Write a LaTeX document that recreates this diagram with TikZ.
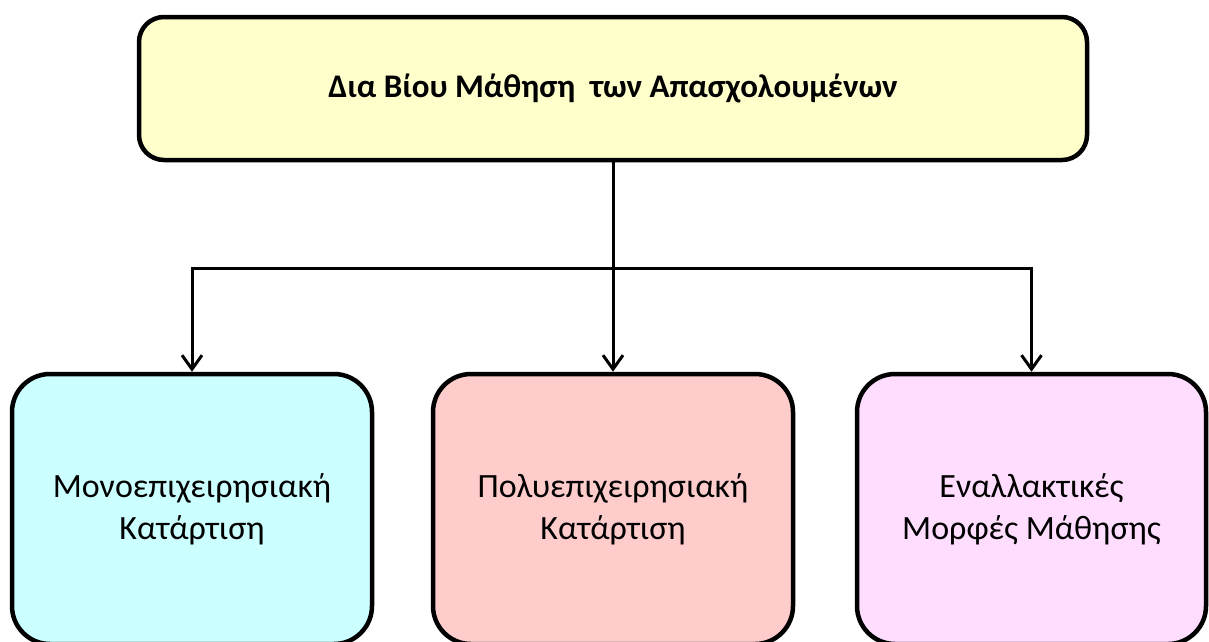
\documentclass[tikz,border=0pt]{standalone}
\usepackage{fontspec}
\setmainfont{Carlito}
\usetikzlibrary{arrows.meta,positioning}
\definecolor{titlefill}{HTML}{FFFFCC}
\definecolor{monofill}{HTML}{CCFFFF}
\definecolor{polyfill}{HTML}{FFCCCC}
\definecolor{altfill}{HTML}{FFDDFF}
\tikzstyle{titlebox} = [draw=black, fill=titlefill, line width=4.5pt, rectangle, rounded corners=25pt, minimum width=948pt, minimum height=143pt, font=\bfseries\fontsize{33}{40}\selectfont]
\tikzstyle{formbox} = [draw=black, line width=4.5pt, rectangle, rounded corners=38pt, minimum width=360pt, minimum height=270pt, align=center, font=\fontsize{34}{42}\selectfont]
\tikzstyle{branch} = [line width=3pt, -{Straight Barb[length=14pt,width=20pt,line width=3pt]}]

\begin{document}
\begin{tikzpicture}[x=1pt,y=-1pt]
\useasboundingbox (0,0) rectangle (1209,641);
\node [titlebox] (lifelong) at (613,88.5) {Δια Βίου Μάθηση\ \ των Απασχολουμένων};
\node [formbox, fill=monofill] (mono) at (192,509) {Μονοεπιχειρησιακή\\Κατάρτιση};
\node [formbox, fill=polyfill] (poly) at (613,509) {Πολυεπιχειρησιακή\\Κατάρτιση};
\node [formbox, fill=altfill, minimum width=349pt] (alt) at (1031.5,509) {Εναλλακτικές\\Μορφές Μάθησης};
\coordinate (split) at (613,268);
\draw [line width=3pt] (lifelong.south) -- (split);
\draw [branch] (split) -| (mono.north);
\draw [branch] (split) -- (poly.north);
\draw [branch] (split) -| (alt.north);
\end{tikzpicture}
\end{document}
